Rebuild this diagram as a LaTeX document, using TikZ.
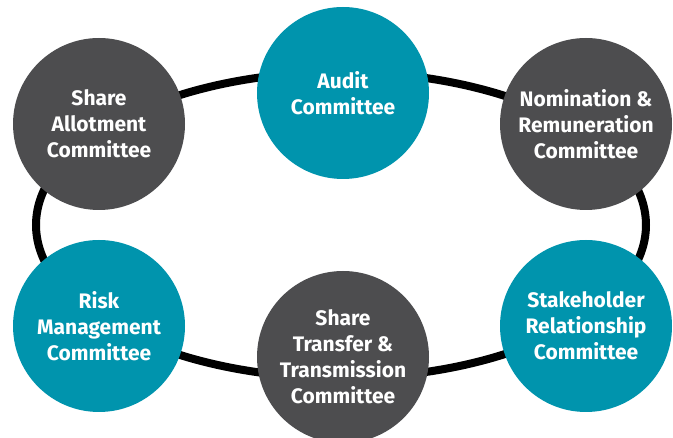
\documentclass[tikz,border=0pt]{standalone}
\usepackage{fontspec}
\setmainfont{Fira Sans}
\definecolor{teal}{RGB}{0,148,173}
\definecolor{slate}{RGB}{77,77,79}
\tikzset{
  committee/.style={circle,minimum size=172pt,inner sep=0pt,align=center,text=white,
    font=\bfseries\fontsize{21}{26}\selectfont},
  tealbox/.style={committee,fill=teal},
  slatebox/.style={committee,fill=slate}
}
\begin{document}
\begin{tikzpicture}[x=1pt,y=-1pt]
\useasboundingbox (0,0) rectangle (673,438);

% Ring
\coordinate (ring) at (341,225);
\draw[black,line width=8pt] (ring) ellipse [x radius=305,y radius=153];

% Top row
\node[slatebox] (allot) at (99,124) {Share\\Allotment\\Committee};
\node[tealbox] (audit) at (343,93) {Audit\\Committee};
\node[slatebox] (nomination) at (586,124) {Nomination \&\\Remuneration\\Committee};

% Bottom row
\node[tealbox] (risk) at (99,326) {Risk\\Management\\Committee};
\node[slatebox] (transfer) at (343,357) {Share\\Transfer \&\\Transmission\\Committee};
\node[tealbox] (stakeholder) at (586,326) {Stakeholder\\Relationship\\Committee};
\end{tikzpicture}
\end{document}
